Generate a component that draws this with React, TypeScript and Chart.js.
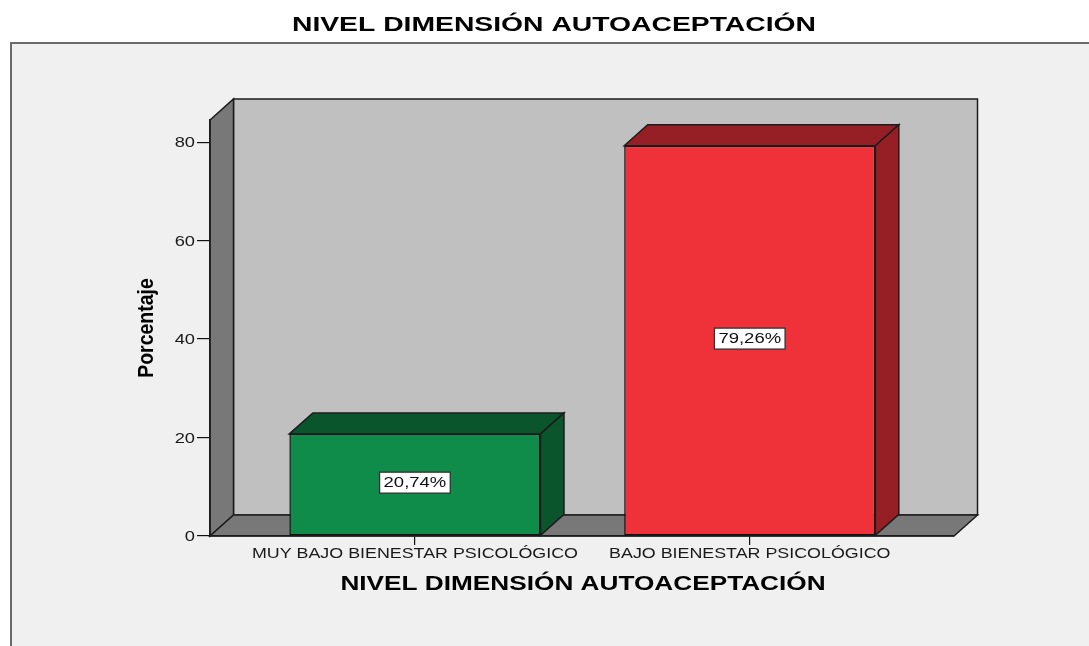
import React, { useEffect, useRef } from "react";
import { Chart, registerables } from "chart.js";

Chart.register(...registerables);

// ---------- data ----------
const chartTitle = "NIVEL DIMENSIÓN AUTOACEPTACIÓN";
const xAxisTitle = "NIVEL DIMENSIÓN AUTOACEPTACIÓN";
const yAxisTitle = "Porcentaje";
const categories = ["MUY BAJO BIENESTAR PSICOLÓGICO", "BAJO BIENESTAR PSICOLÓGICO"];
const percentages = [20.74, 79.26];
const valueLabels = ["20,74%", "79,26%"];
const yTickValues = [0, 20, 40, 60, 80];
const yTickLabels = ["0", "20", "40", "60", "80"];

// ---------- style ----------
const frontColors = ["#0f8c49", "#ef323a"];
const shadeColors = ["#0a552b", "#951f24"];
const FONT = "'Liberation Sans', Arial, Helvetica, sans-serif";
const DEPTH_X = 23.5;
const DEPTH_Y = -21;
const WALL = "#787878";
const BACK = "#c0c0c0";
const EDGE = "#1c1c1c";

function stretchedText(
  ctx: CanvasRenderingContext2D,
  text: string,
  x: number,
  y: number,
  font: string,
  sx: number,
  color: string,
  align: CanvasTextAlign = "center",
  rotate = 0
) {
  ctx.save();
  ctx.font = font;
  ctx.fillStyle = color;
  ctx.textAlign = align;
  ctx.textBaseline = "middle";
  ctx.translate(x, y);
  ctx.scale(sx, 1);
  if (rotate) ctx.rotate(rotate);
  ctx.fillText(text, 0, 0);
  ctx.restore();
}

function poly(ctx: CanvasRenderingContext2D, pts: number[][], fill: string, stroke = EDGE, lw = 1.5) {
  ctx.beginPath();
  ctx.moveTo(pts[0][0], pts[0][1]);
  for (let i = 1; i < pts.length; i++) ctx.lineTo(pts[i][0], pts[i][1]);
  ctx.closePath();
  ctx.fillStyle = fill;
  ctx.fill();
  ctx.lineWidth = lw;
  ctx.strokeStyle = stroke;
  ctx.lineJoin = "miter";
  ctx.stroke();
}

const spssPlugin = {
  id: "spss3d",
  beforeDraw(chart: any) {
    const ctx: CanvasRenderingContext2D = chart.ctx;
    const { left: L, right: R, top: T, bottom: B } = chart.chartArea;
    ctx.save();
    // page + panel
    ctx.fillStyle = "#ffffff";
    ctx.fillRect(0, 0, chart.width, chart.height);
    ctx.fillStyle = "#f0f0f0";
    ctx.fillRect(11, 43, chart.width, chart.height);
    ctx.strokeStyle = "#6a6a6a";
    ctx.lineWidth = 2;
    ctx.beginPath();
    ctx.moveTo(11, chart.height + 2);
    ctx.lineTo(11, 43);
    ctx.lineTo(chart.width + 2, 43);
    ctx.stroke();
    // back wall
    poly(ctx, [
      [L + DEPTH_X, T + DEPTH_Y],
      [R + DEPTH_X, T + DEPTH_Y],
      [R + DEPTH_X, B + DEPTH_Y],
      [L + DEPTH_X, B + DEPTH_Y],
    ], BACK);
    // left wall
    poly(ctx, [
      [L, T],
      [L + DEPTH_X, T + DEPTH_Y],
      [L + DEPTH_X, B + DEPTH_Y],
      [L, B],
    ], WALL);
    // floor
    poly(ctx, [
      [L, B],
      [L + DEPTH_X, B + DEPTH_Y],
      [R + DEPTH_X, B + DEPTH_Y],
      [R, B],
    ], WALL);
    ctx.restore();
  },
  afterDatasetsDraw(chart: any) {
    const ctx: CanvasRenderingContext2D = chart.ctx;
    const meta = chart.getDatasetMeta(0);
    ctx.save();
    meta.data.forEach((bar: any, i: number) => {
      const { x, y, base, width } = bar.getProps(["x", "y", "base", "width"], true);
      const l = x - width / 2;
      const r = x + width / 2;
      // top face
      poly(ctx, [
        [l, y],
        [l + DEPTH_X, y + DEPTH_Y],
        [r + DEPTH_X, y + DEPTH_Y],
        [r, y],
      ], shadeColors[i]);
      // side face
      poly(ctx, [
        [r, y],
        [r + DEPTH_X, y + DEPTH_Y],
        [r + DEPTH_X, base + DEPTH_Y],
        [r, base],
      ], shadeColors[i]);
      // value label box
      const cy = (y + base) / 2 - 2;
      ctx.font = `14px ${FONT}`;
      const sx = 1.32;
      const tw = ctx.measureText(valueLabels[i]).width * sx;
      const bw = tw + 8;
      const bh = 21;
      ctx.fillStyle = "#ffffff";
      ctx.fillRect(x - bw / 2, cy - bh / 2, bw, bh);
      ctx.strokeStyle = "#333333";
      ctx.lineWidth = 1.3;
      ctx.strokeRect(x - bw / 2, cy - bh / 2, bw, bh);
      stretchedText(ctx, valueLabels[i], x, cy + 0.5, `14px ${FONT}`, sx, "#111111");
    });
    ctx.restore();
  },
  afterDraw(chart: any) {
    const ctx: CanvasRenderingContext2D = chart.ctx;
    const { left: L, right: R, top: T, bottom: B } = chart.chartArea;
    const ys = chart.scales.y;
    const xs = chart.scales.x;
    // y tick labels
    yTickValues.forEach((v, i) => {
      stretchedText(ctx, yTickLabels[i], L - 15, ys.getPixelForValue(v) + 1, `15px ${FONT}`, 1.22, "#1a1a1a", "right");
    });
    // x tick labels
    categories.forEach((c, i) => {
      stretchedText(ctx, c, xs.getPixelForValue(i + 1), B + 17.5, `15px ${FONT}`, 1.19, "#1a1a1a");
    });
    // axis titles
    stretchedText(ctx, xAxisTitle, (L + R) / 2 + 1, B + 48.5, `bold 20px ${FONT}`, 1.31, "#000000");
    stretchedText(ctx, yAxisTitle, L - 63, (T + B) / 2, `bold 19.5px ${FONT}`, 1.1, "#000000", "center", -Math.PI / 2);
    // main title
    stretchedText(ctx, chartTitle, 554, 25, `bold 20px ${FONT}`, 1.415, "#000000");
  },
};

export default function App() {
  const ref = useRef<HTMLCanvasElement | null>(null);
  useEffect(() => {
    if (!ref.current) return;
    const chart = new Chart(ref.current, {
      type: "bar",
      data: {
        datasets: [
          {
            data: categories.map((c, i) => ({ x: i + 1, y: percentages[i] })),
            backgroundColor: frontColors,
            borderColor: "#111111",
            borderWidth: 1.5,
            borderSkipped: false,
            barPercentage: 0.75,
            categoryPercentage: 1,
          } as any,
        ],
      },
      options: {
        responsive: false,
        animation: false,
        events: [],
        layout: { padding: { left: 197, right: 135, top: 120, bottom: 101 } },
        plugins: {
          legend: { display: false },
          tooltip: { enabled: false },
          title: { display: false },
        },
        scales: {
          x: {
            type: "linear",
            min: 0.388,
            max: 2.61,
            offset: false,
            afterBuildTicks: (scale: any) => {
              scale.ticks = categories.map((_, i) => ({ value: i + 1 }));
            },
            ticks: { display: false },
            grid: {
              display: true,
              offset: false,
              drawOnChartArea: false,
              drawTicks: true,
              tickLength: 9,
              color: "#111111",
              lineWidth: 1.2,
            },
            border: { display: true, color: EDGE, width: 1.5 },
          },
          y: {
            type: "linear",
            min: 0,
            max: 84.5,
            afterBuildTicks: (scale: any) => {
              scale.ticks = yTickValues.map((v) => ({ value: v }));
            },
            ticks: { display: false },
            grid: {
              display: true,
              drawOnChartArea: false,
              drawTicks: true,
              tickLength: 13,
              color: "#111111",
              lineWidth: 1.2,
            },
            border: { display: true, color: EDGE, width: 1.5 },
          },
        },
      },
      plugins: [spssPlugin],
    });
    return () => chart.destroy();
  }, []);
  return (
    <div style={{ position: "absolute", left: 0, top: 0, width: 1089, height: 646, background: "#fff" }}>
      <canvas ref={ref} width={1089} height={646} style={{ display: "block", width: 1089, height: 646 }} />
    </div>
  );
}
